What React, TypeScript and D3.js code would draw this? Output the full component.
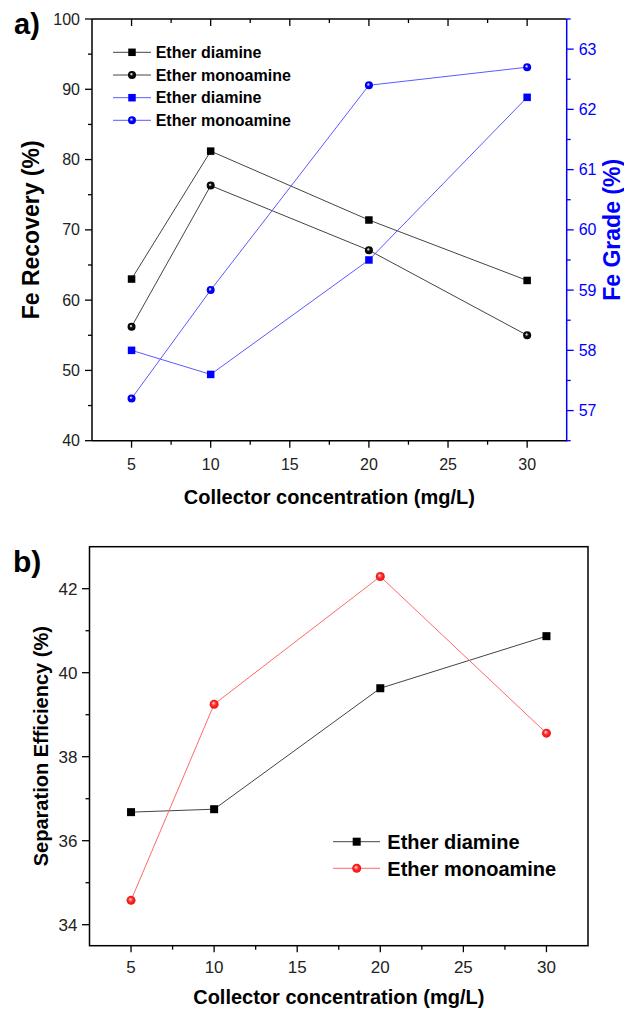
import React from "react";
import * as d3 from "d3";

const conc = [5, 10, 20, 30];
const recoveryDiamine = [63.0, 81.2, 71.4, 62.8];
const recoveryMonoamine = [56.2, 76.3, 67.1, 55.0];
const gradeDiamine = [58.0, 57.6, 59.5, 62.2];
const gradeMonoamine = [57.2, 59.0, 62.4, 62.7];
const sepDiamine = [36.68, 36.75, 39.63, 40.87];
const sepMonoamine = [34.58, 39.25, 42.29, 38.56];

const xTicks = [5, 10, 15, 20, 25, 30];
const xMinor = [7.5, 12.5, 17.5, 22.5, 27.5];
const recTicks = [40, 50, 60, 70, 80, 90, 100];
const recMinor = [45, 55, 65, 75, 85, 95];
const gradeTicks = [57, 58, 59, 60, 61, 62, 63];
const gradeMinor = [56.5, 57.5, 58.5, 59.5, 60.5, 61.5, 62.5, 63.5];
const sepTicks = [34, 36, 38, 40, 42];
const sepMinor = [35, 37, 39, 41];

const FONT = "'Liberation Sans', Arial, Helvetica, sans-serif";
const BLUE = "#0000ff";
const BLUE_LINE = "#5a5aff";
const RED_LINE = "#ff6a6a";
const BLACK_LINE = "#444";
const TICKC = "#222";

type Pt = [number, number];

function Square({ x, y, s, fill }: { x: number; y: number; s: number; fill: string }) {
  return <rect x={x - s / 2} y={y - s / 2} width={s} height={s} fill={fill} />;
}
function Sphere({ x, y, r, grad }: { x: number; y: number; r: number; grad: string }) {
  return <circle cx={x} cy={y} r={r} fill={`url(#${grad})`} />;
}

export default function App() {
  const xa = d3.scaleLinear().domain([2.5, 32.5]).range([92, 566.7]);
  const ya = d3.scaleLinear().domain([40, 100]).range([440.7, 19]);
  const yr = d3.scaleLinear().domain([56.5, 63.5]).range([440.7, 19]);
  const xb = d3.scaleLinear().domain([2.5, 32.5]).range([89.5, 588]);
  const yb = d3.scaleLinear().domain([33.5, 43]).range([945.7, 546.7]);

  const lineA = (vals: number[], ys: d3.ScaleLinear<number, number>) =>
    d3.line<Pt>().x((d) => xa(d[0])).y((d) => ys(d[1]))(conc.map((c, i) => [c, vals[i]] as Pt)) || "";
  const lineB = (vals: number[]) =>
    d3.line<Pt>().x((d) => xb(d[0])).y((d) => yb(d[1]))(conc.map((c, i) => [c, vals[i]] as Pt)) || "";

  const aB = 440.7, aT = 19, aL = 92, aR = 566.7;
  const bB = 945.7, bT = 546.7, bL = 89.5, bR = 588;

  return (
    <svg width={624} height={1010} style={{ position: "absolute", left: 0, top: 0, background: "#fff" }} fontFamily={FONT}>
      <defs>
        <radialGradient id="gBlack" cx="0.5" cy="0.5" r="0.5" fx="0.4" fy="0.36">
          <stop offset="0" stopColor="#ffffff" />
          <stop offset="0.18" stopColor="#bbb" />
          <stop offset="0.4" stopColor="#111" />
          <stop offset="1" stopColor="#000" />
        </radialGradient>
        <radialGradient id="gBlue" cx="0.5" cy="0.5" r="0.5" fx="0.4" fy="0.36">
          <stop offset="0" stopColor="#ffffff" />
          <stop offset="0.18" stopColor="#b0b0ff" />
          <stop offset="0.42" stopColor="#0000ff" />
          <stop offset="1" stopColor="#0000e8" />
        </radialGradient>
        <radialGradient id="gRed" cx="0.5" cy="0.5" r="0.5" fx="0.4" fy="0.36">
          <stop offset="0" stopColor="#ffe8e8" />
          <stop offset="0.25" stopColor="#ff8080" />
          <stop offset="0.55" stopColor="#ff2424" />
          <stop offset="1" stopColor="#ee1515" />
        </radialGradient>
      </defs>

      {/* ===== Panel a ===== */}
      <text x={14} y={33.5} fontSize={29} fontWeight="bold" fill="#000">a)</text>

      <path d={lineA(recoveryDiamine, ya)} fill="none" stroke={BLACK_LINE} strokeWidth={1} />
      <path d={lineA(recoveryMonoamine, ya)} fill="none" stroke={BLACK_LINE} strokeWidth={1} />
      <path d={lineA(gradeDiamine, yr)} fill="none" stroke={BLUE_LINE} strokeWidth={1} />
      <path d={lineA(gradeMonoamine, yr)} fill="none" stroke={BLUE_LINE} strokeWidth={1} />
      {conc.map((c, i) => (
        <g key={"am" + i}>
          <Square x={xa(c)} y={ya(recoveryDiamine[i])} s={7.5} fill="#000" />
          <Sphere x={xa(c)} y={ya(recoveryMonoamine[i])} r={4} grad="gBlack" />
          <Square x={xa(c)} y={yr(gradeDiamine[i])} s={7.5} fill={BLUE} />
          <Sphere x={xa(c)} y={yr(gradeMonoamine[i])} r={4} grad="gBlue" />
        </g>
      ))}

      <line x1={aL} x2={aR} y1={aT} y2={aT} stroke="#000" strokeWidth={1.5} />
      <line x1={aL} x2={aR} y1={aB} y2={aB} stroke="#000" strokeWidth={1.5} />
      <line x1={aL} x2={aL} y1={aT} y2={aB} stroke="#000" strokeWidth={1.5} />
      <line x1={aR} x2={aR} y1={aT} y2={aB + 0.75} stroke={BLUE} strokeWidth={1.5} />
      {xTicks.map((t) => (
        <g key={"axt" + t}>
          <line x1={xa(t)} x2={xa(t)} y1={aB} y2={aB + 7} stroke="#000" strokeWidth={1.3} />
          <line x1={xa(t)} x2={xa(t)} y1={aT} y2={aT + 7} stroke="#000" strokeWidth={1.3} />
          <text x={xa(t)} y={469.5} fontSize={16} textAnchor="middle" fill={TICKC}>{t}</text>
        </g>
      ))}
      {xMinor.map((t) => (
        <g key={"axm" + t}>
          <line x1={xa(t)} x2={xa(t)} y1={aB} y2={aB + 4} stroke="#000" strokeWidth={1.3} />
          <line x1={xa(t)} x2={xa(t)} y1={aT} y2={aT + 4} stroke="#000" strokeWidth={1.3} />
        </g>
      ))}
      {recTicks.map((t) => (
        <g key={"ayt" + t}>
          <line x1={aL - 7} x2={aL} y1={ya(t)} y2={ya(t)} stroke="#000" strokeWidth={1.3} />
          <text x={aL - 12} y={ya(t)} dy="0.35em" fontSize={16} textAnchor="end" fill={TICKC}>{t}</text>
        </g>
      ))}
      {recMinor.map((t) => (
        <line key={"aym" + t} x1={aL - 4} x2={aL} y1={ya(t)} y2={ya(t)} stroke="#000" strokeWidth={1.3} />
      ))}
      {gradeTicks.map((t) => (
        <g key={"art" + t}>
          <line x1={aR} x2={aR + 7} y1={yr(t)} y2={yr(t)} stroke={BLUE} strokeWidth={1.3} />
          <text x={aR + 12} y={yr(t)} dy="0.35em" fontSize={16} textAnchor="start" fill={BLUE}>{t}</text>
        </g>
      ))}
      {gradeMinor.map((t) => (
        <line key={"arm" + t} x1={aR} x2={aR + 4} y1={yr(t)} y2={yr(t)} stroke={BLUE} strokeWidth={1.3} />
      ))}

      <text x={(aL + aR) / 2} y={504} fontSize={20} fontWeight="bold" textAnchor="middle" fill="#000">Collector concentration (mg/L)</text>
      <text transform={`translate(38.5, ${(aT + aB) / 2}) rotate(-90)`} fontSize={23} fontWeight="bold" textAnchor="middle" fill="#000">Fe Recovery (%)</text>
      <text transform={`translate(619.5, ${(aT + aB) / 2}) rotate(-90)`} fontSize={23} fontWeight="bold" textAnchor="middle" fill={BLUE}>Fe Grade (%)</text>

      {[
        { label: "Ether diamine", color: BLACK_LINE, kind: "sq", fill: "#000", y: 52.3 },
        { label: "Ether monoamine", color: BLACK_LINE, kind: "ci", fill: "gBlack", y: 75 },
        { label: "Ether diamine", color: BLUE_LINE, kind: "sq", fill: BLUE, y: 97.7 },
        { label: "Ether monoamine", color: BLUE_LINE, kind: "ci", fill: "gBlue", y: 120.3 },
      ].map((d, i) => (
        <g key={"la" + i}>
          <line x1={113} x2={151} y1={d.y} y2={d.y} stroke={d.color} strokeWidth={1} />
          {d.kind === "sq" ? (
            <Square x={132} y={d.y} s={7.5} fill={d.fill} />
          ) : (
            <Sphere x={132} y={d.y} r={4} grad={d.fill} />
          )}
          <text x={155.7} y={d.y} dy="0.36em" fontSize={16} fontWeight="bold" fill="#000">{d.label}</text>
        </g>
      ))}

      {/* ===== Panel b ===== */}
      <text x={13} y={572} fontSize={30} fontWeight="bold" fill="#000">b)</text>

      <path d={lineB(sepDiamine)} fill="none" stroke={BLACK_LINE} strokeWidth={1} />
      <path d={lineB(sepMonoamine)} fill="none" stroke={RED_LINE} strokeWidth={1} />
      {conc.map((c, i) => (
        <g key={"bm" + i}>
          <Square x={xb(c)} y={yb(sepDiamine[i])} s={8} fill="#000" />
          <Sphere x={xb(c)} y={yb(sepMonoamine[i])} r={4.5} grad="gRed" />
        </g>
      ))}

      <rect x={bL} y={bT} width={bR - bL} height={bB - bT} fill="none" stroke="#000" strokeWidth={1.5} />
      {xTicks.map((t) => (
        <g key={"bxt" + t}>
          <line x1={xb(t)} x2={xb(t)} y1={bB} y2={bB + 6.5} stroke="#000" strokeWidth={1.3} />
          <text x={xb(t)} y={973} fontSize={17} textAnchor="middle" fill={TICKC}>{t}</text>
        </g>
      ))}
      {xMinor.map((t) => (
        <line key={"bxm" + t} x1={xb(t)} x2={xb(t)} y1={bB} y2={bB + 4} stroke="#000" strokeWidth={1.3} />
      ))}
      {sepTicks.map((t) => (
        <g key={"byt" + t}>
          <line x1={bL - 7.5} x2={bL} y1={yb(t)} y2={yb(t)} stroke="#000" strokeWidth={1.3} />
          <text x={bL - 12} y={yb(t)} dy="0.35em" fontSize={17} textAnchor="end" fill={TICKC}>{t}</text>
        </g>
      ))}
      {sepMinor.map((t) => (
        <line key={"bym" + t} x1={bL - 4} x2={bL} y1={yb(t)} y2={yb(t)} stroke="#000" strokeWidth={1.3} />
      ))}

      <text x={(bL + bR) / 2} y={1004} fontSize={20} fontWeight="bold" textAnchor="middle" fill="#000">Collector concentration (mg/L)</text>
      <text transform={`translate(48, ${(bT + bB) / 2}) rotate(-90)`} fontSize={20} fontWeight="bold" textAnchor="middle" fill="#000">Separation Efficiency (%)</text>

      {[
        { label: "Ether diamine", color: BLACK_LINE, kind: "sq", fill: "#000", y: 841.7 },
        { label: "Ether monoamine", color: RED_LINE, kind: "ci", fill: "gRed", y: 868.3 },
      ].map((d, i) => (
        <g key={"lb" + i}>
          <line x1={333} x2={380} y1={d.y} y2={d.y} stroke={d.color} strokeWidth={1} />
          {d.kind === "sq" ? (
            <Square x={356.7} y={d.y} s={8} fill={d.fill} />
          ) : (
            <Sphere x={356.7} y={d.y} r={4.5} grad={d.fill} />
          )}
          <text x={387.3} y={d.y} dy="0.36em" fontSize={20} fontWeight="bold" fill="#000">{d.label}</text>
        </g>
      ))}
    </svg>
  );
}
